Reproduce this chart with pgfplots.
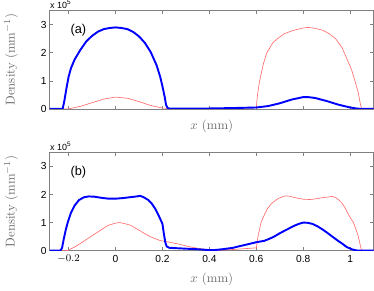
\documentclass[border=0pt]{standalone}
\usepackage{fontspec}
\setsansfont{Liberation Sans}
\usepackage{pgfplots}
\pgfplotsset{compat=1.18}
\definecolor{bl}{rgb}{0,0,1}
\definecolor{rd}{rgb}{1,0.42,0.42}
\definecolor{lab}{rgb}{0.42,0.42,0.42}
\definecolor{box}{rgb}{0.5,0.5,0.5}
\pgfplotsset{
  myaxis/.style={
    scale only axis, width=253.5pt, height=77pt,
    xmin=-0.28, xmax=1.1, ymin=0, ymax=3.5,
    xtick={-0.2,0,0.2,0.4,0.6,0.8,1}, ytick={0,1,2,3},
    tick align=inside, major tick length=2.5pt,
    tick style={color=box, line width=0.4pt},
    axis line style={color=box, line width=0.6pt},
    ticklabel style={font=\sffamily\fontsize{8}{9}\selectfont, text=black},
    /pgf/number format/assume math mode=true,
    yticklabel style={xshift=1pt},
    ylabel={Density (mm$^{-1}$)},
    ylabel style={text=lab, font=\fontsize{10}{12}\selectfont, at={(axis description cs:-0.085,0.5)}, anchor=south},
    xlabel={$x$ (mm)},
    xlabel style={text=lab, font=\fontsize{10}{12}\selectfont},
    clip mode=individual,
  },
  rdl/.style={color=rd, line width=0.5pt},
  bll/.style={color=bl, line width=1.5pt, line join=round},
}
\begin{document}
\begin{tikzpicture}
\begin{axis}[myaxis, xticklabels={},
  xlabel style={at={(axis description cs:0.5,0)}, anchor=center, yshift=-14pt}]
\addplot[rdl] coordinates {
(-0.28,0) (-0.2,0) (-0.15,0.09) (-0.1,0.22) (-0.05,0.35) (0,0.42) (0.05,0.38) (0.1,0.26) (0.15,0.12) (0.2,0.03) (0.25,0.01) (0.4,0.01) (0.55,0.02) (0.6,0.05) (0.605,0.5) (0.614,1.0) (0.63,1.6) (0.645,2.0) (0.67,2.35) (0.69,2.5) (0.72,2.68) (0.76,2.8) (0.8,2.88) (0.82,2.9) (0.85,2.87) (0.883,2.8) (0.91,2.68) (0.938,2.5) (0.966,2.17) (0.985,1.8) (1.007,1.37) (1.02,1.0) (1.034,0.6) (1.043,0.2) (1.048,0.02) (1.1,0)
};
\addplot[bll] coordinates {
(-0.28,0) (-0.23,0) (-0.225,0.02) (-0.218,0.3) (-0.21,0.7) (-0.2,1.15) (-0.19,1.45) (-0.175,1.75) (-0.15,2.1) (-0.125,2.4) (-0.1,2.6) (-0.075,2.75) (-0.05,2.84) (-0.025,2.88) (0,2.9) (0.025,2.88) (0.05,2.84) (0.075,2.74) (0.1,2.58) (0.125,2.35) (0.15,2.02) (0.175,1.55) (0.19,1.15) (0.2,0.8) (0.21,0.4) (0.215,0.15) (0.222,0.03) (0.23,0.01) (0.3,0.01) (0.4,0.015) (0.5,0.03) (0.6,0.05) (0.65,0.1) (0.7,0.2) (0.75,0.33) (0.8,0.42) (0.82,0.42) (0.85,0.39) (0.9,0.28) (0.95,0.15) (1.0,0.05) (1.03,0.01) (1.05,0) (1.1,0)
};
\node[font=\sffamily\fontsize{10}{12}\selectfont, anchor=west] at (rel axis cs:0.05,0.8) {(a)};
\node[font=\sffamily\fontsize{7}{8}\selectfont, anchor=south west, inner sep=0pt] at (rel axis cs:0,1.02) {x 10$^{\mathsf{5}}$};
\end{axis}
\begin{axis}[myaxis, yshift=-111pt,
  xticklabels={$-0.2$,0,0.2,0.4,0.6,0.8,1},
  xlabel style={at={(axis description cs:0.5,0)}, anchor=center, yshift=-22.5pt}]
\addplot[rdl] coordinates {
(-0.28,0) (-0.205,0) (-0.17,0.15) (-0.142,0.3) (-0.115,0.45) (-0.087,0.6) (-0.06,0.75) (-0.032,0.9) (0,0.98) (0.017,1.0) (0.04,0.96) (0.065,0.9) (0.085,0.8) (0.106,0.7) (0.125,0.6) (0.148,0.5) (0.17,0.42) (0.19,0.36) (0.21,0.33) (0.23,0.3) (0.26,0.25) (0.285,0.2) (0.31,0.15) (0.34,0.1) (0.37,0.06) (0.4,0.03) (0.42,0.01) (0.45,0.02) (0.5,0.04) (0.55,0.07) (0.6,0.1) (0.607,0.5) (0.62,1.0) (0.633,1.25) (0.648,1.5) (0.665,1.68) (0.683,1.8) (0.7,1.88) (0.724,1.95) (0.74,1.94) (0.759,1.9) (0.78,1.86) (0.8,1.83) (0.828,1.82) (0.85,1.84) (0.87,1.87) (0.897,1.9) (0.924,1.93) (0.94,1.88) (0.952,1.8) (0.966,1.68) (0.98,1.5) (0.995,1.25) (1.014,1.0) (1.025,0.75) (1.035,0.5) (1.043,0.2) (1.048,0.02) (1.1,0)
};
\addplot[bll] coordinates {
(-0.28,0) (-0.235,0) (-0.228,0.1) (-0.22,0.45) (-0.212,0.75) (-0.204,1.0) (-0.19,1.35) (-0.175,1.6) (-0.156,1.8) (-0.135,1.9) (-0.115,1.93) (-0.09,1.92) (-0.06,1.88) (-0.03,1.85) (0,1.85) (0.03,1.87) (0.06,1.9) (0.09,1.93) (0.105,1.95) (0.12,1.9) (0.14,1.8) (0.154,1.68) (0.17,1.48) (0.182,1.28) (0.192,1.1) (0.2,0.95) (0.206,0.6) (0.212,0.3) (0.218,0.15) (0.23,0.1) (0.3,0.07) (0.35,0.05) (0.4,0.02) (0.42,0.02) (0.455,0.05) (0.5,0.1) (0.524,0.15) (0.56,0.22) (0.6,0.3) (0.634,0.35) (0.655,0.42) (0.676,0.5) (0.7,0.62) (0.73,0.75) (0.76,0.88) (0.78,0.95) (0.8,1.0) (0.82,0.99) (0.84,0.95) (0.86,0.87) (0.883,0.75) (0.9,0.65) (0.924,0.5) (0.945,0.37) (0.966,0.25) (0.985,0.13) (1.007,0.05) (1.02,0.02) (1.035,0) (1.1,0)
};
\node[font=\sffamily\fontsize{10}{12}\selectfont, anchor=west] at (rel axis cs:0.05,0.8) {(b)};
\node[font=\sffamily\fontsize{7}{8}\selectfont, anchor=south west, inner sep=0pt] at (rel axis cs:0,1.02) {x 10$^{\mathsf{5}}$};
\end{axis}
\end{tikzpicture}
\end{document}
